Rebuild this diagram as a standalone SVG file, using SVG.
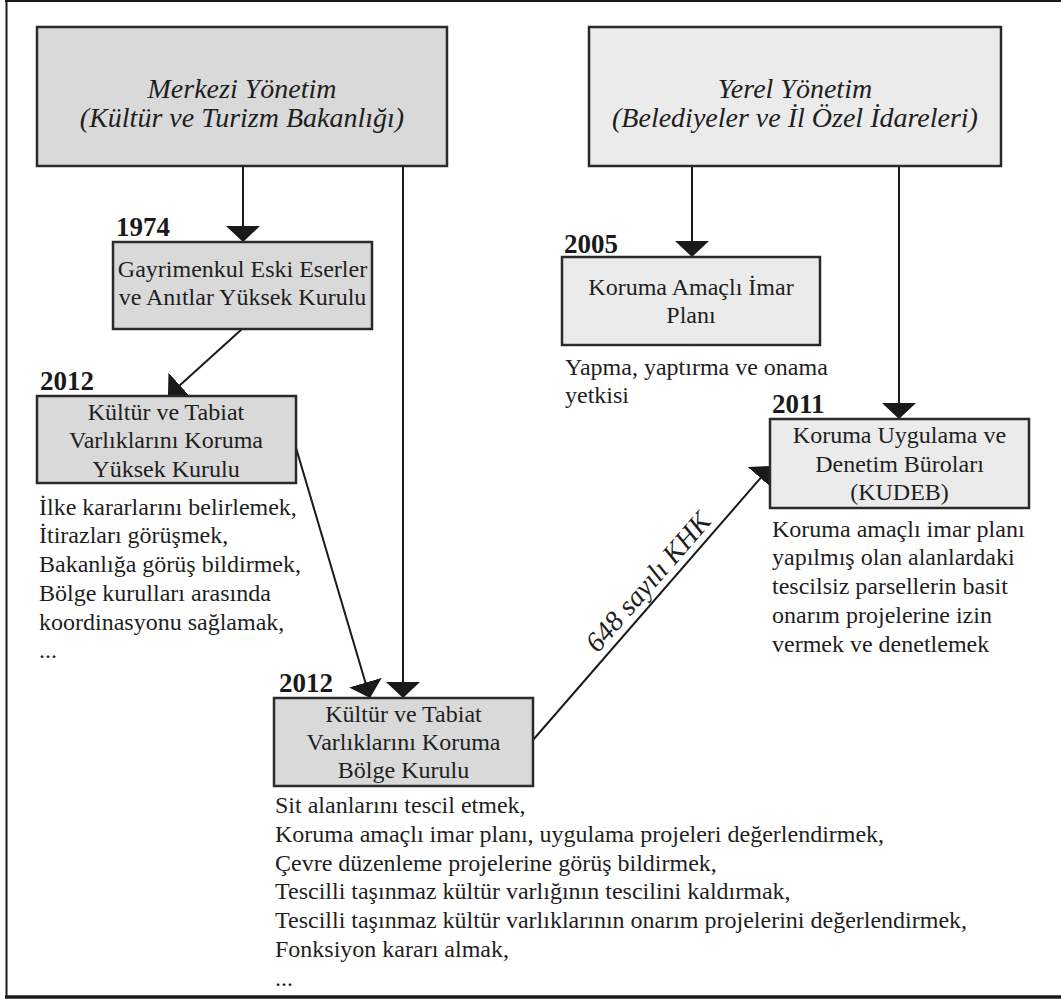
<svg xmlns="http://www.w3.org/2000/svg" width="1061" height="1003" viewBox="0 0 1061 1003">
<defs>
<marker id="ah" viewBox="0 0 16 34" refX="16" refY="17" markerWidth="16" markerHeight="34" markerUnits="userSpaceOnUse" orient="auto">
<path d="M0,0 L16,17 L0,34 Z" fill="#1a1a1a"/>
</marker>
<style>
.bx{stroke:#2a2a2a;stroke-width:2.5}
.dk{fill:#d9d9d9}
.lt{fill:#ebebeb}
text{font-family:'Liberation Serif',serif}
.t{font-size:24px;fill:#1e1e1e}
.c{text-anchor:middle}
.it{font-style:italic;font-size:28px}
.kh{font-style:italic;font-size:28px;text-anchor:middle}
.yr{font-size:27px;font-weight:bold;fill:#1a1a1a}
.cn{stroke:#1a1a1a;stroke-width:2;fill:none;marker-end:url(#ah)}
</style>
</defs>
<rect width="1061" height="1003" fill="#ffffff"/>
<g id="frame" stroke="#1a1a1a" fill="none">
<line x1="6.5" y1="0" x2="6.5" y2="998" stroke-width="2"/>
<line x1="5" y1="1" x2="1061" y2="1" stroke-width="2"/>
<line x1="5" y1="997" x2="1061" y2="997" stroke-width="3.5"/>
</g>
<g id="connectors">
<line class="cn" x1="243" y1="166" x2="243" y2="242"/>
<line class="cn" x1="403" y1="166" x2="403" y2="698"/>
<line class="cn" x1="692" y1="166" x2="692" y2="257"/>
<line class="cn" x1="899" y1="166" x2="899" y2="419"/>
<line class="cn" x1="242" y1="329" x2="168" y2="396"/>
<line class="cn" x1="294" y1="441" x2="370" y2="698"/>
<line class="cn" x1="533" y1="740" x2="771" y2="466"/>
<text class="t kh" transform="translate(655,588) rotate(-49)">648 sayılı KHK</text>
</g>
<g id="merkezi">
<rect class="bx dk" x="37" y="27" width="410" height="139"/>
<text class="t c it" x="242" y="98">Merkezi Yönetim</text>
<text class="t c it" x="242" y="127">(Kültür ve Turizm Bakanlığı)</text>
</g>
<g id="yerel">
<rect class="bx lt" x="589" y="27" width="412" height="139"/>
<text class="t c it" x="795" y="98">Yerel Yönetim</text>
<text class="t c it" x="795" y="127">(Belediyeler ve İl Özel İdareleri)</text>
</g>
<g id="gayrimenkul">
<text class="yr" x="116" y="236">1974</text>
<rect class="bx dk" x="113" y="242" width="259" height="87"/>
<text class="t c" x="242.5" y="277">Gayrimenkul Eski Eserler</text>
<text class="t c" x="242.5" y="305">ve Anıtlar Yüksek Kurulu</text>
</g>
<g id="yuksek">
<text class="yr" x="40" y="390">2012</text>
<rect class="bx dk" x="37" y="396" width="259" height="87"/>
<text class="t c" x="166" y="420">Kültür ve Tabiat</text>
<text class="t c" x="166" y="448">Varlıklarını Koruma</text>
<text class="t c" x="166" y="477">Yüksek Kurulu</text>
<text class="t" x="39" y="515">İlke kararlarını belirlemek,</text>
<text class="t" x="39" y="543">İtirazları görüşmek,</text>
<text class="t" x="39" y="572">Bakanlığa görüş bildirmek,</text>
<text class="t" x="39" y="601">Bölge kurulları arasında</text>
<text class="t" x="39" y="630">koordinasyonu sağlamak,</text>
<text class="t" x="39" y="658">...</text>
</g>
<g id="bolge">
<text class="yr" x="279" y="692">2012</text>
<rect class="bx dk" x="274" y="698" width="259" height="88"/>
<text class="t c" x="403.5" y="722">Kültür ve Tabiat</text>
<text class="t c" x="403.5" y="750">Varlıklarını Koruma</text>
<text class="t c" x="403.5" y="778">Bölge Kurulu</text>
<text class="t" x="275" y="813">Sit alanlarını tescil etmek,</text>
<text class="t" x="275" y="842">Koruma amaçlı imar planı, uygulama projeleri değerlendirmek,</text>
<text class="t" x="275" y="871">Çevre düzenleme projelerine görüş bildirmek,</text>
<text class="t" x="275" y="899">Tescilli taşınmaz kültür varlığının tescilini kaldırmak,</text>
<text class="t" x="275" y="928">Tescilli taşınmaz kültür varlıklarının onarım projelerini değerlendirmek,</text>
<text class="t" x="275" y="957">Fonksiyon kararı almak,</text>
<text class="t" x="275" y="986">...</text>
</g>
<g id="imarplani">
<text class="yr" x="564" y="253">2005</text>
<rect class="bx lt" x="562" y="257" width="258" height="88"/>
<text class="t c" x="691" y="295">Koruma Amaçlı İmar</text>
<text class="t c" x="691" y="323">Planı</text>
<text class="t" x="565" y="375">Yapma, yaptırma ve onama</text>
<text class="t" x="565" y="403">yetkisi</text>
</g>
<g id="kudeb">
<text class="yr" x="772" y="413">2011</text>
<rect class="bx lt" x="770" y="419" width="259" height="89"/>
<text class="t c" x="899.5" y="443">Koruma Uygulama ve</text>
<text class="t c" x="899.5" y="472">Denetim Büroları</text>
<text class="t c" x="899.5" y="500">(KUDEB)</text>
<text class="t" x="772" y="537">Koruma amaçlı imar planı</text>
<text class="t" x="772" y="565">yapılmış olan alanlardaki</text>
<text class="t" x="772" y="594">tescilsiz parsellerin basit</text>
<text class="t" x="772" y="623">onarım projelerine izin</text>
<text class="t" x="772" y="652">vermek ve denetlemek</text>
</g>
</svg>
